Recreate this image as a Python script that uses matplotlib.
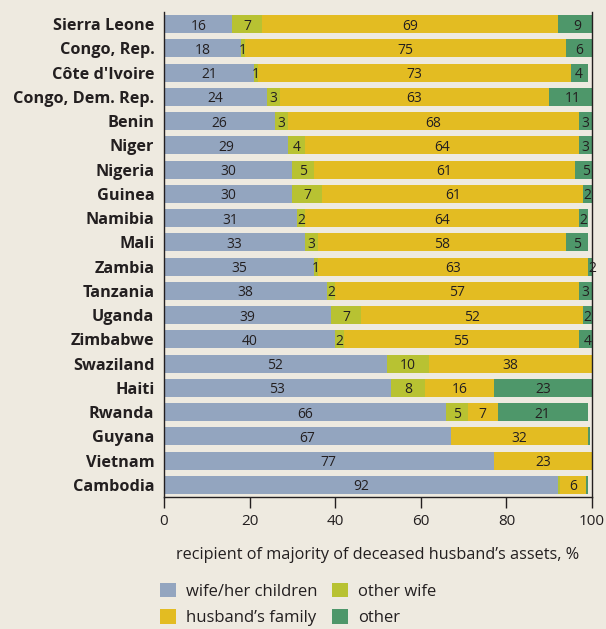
import numpy as np
import matplotlib.pyplot as plt
from matplotlib.patches import Patch

# data (top to bottom)
countries = ["Sierra Leone", "Congo, Rep.", "Côte d'Ivoire", "Congo, Dem. Rep.", "Benin",
             "Niger", "Nigeria", "Guinea", "Namibia", "Mali", "Zambia", "Tanzania",
             "Uganda", "Zimbabwe", "Swaziland", "Haiti", "Rwanda", "Guyana", "Vietnam",
             "Cambodia"]
wife_children = [16, 18, 21, 24, 26, 29, 30, 30, 31, 33, 35, 38, 39, 40, 52, 53, 66, 67, 77, 92]
other_wife = [7, 1, 1, 3, 3, 4, 5, 7, 2, 3, 1, 2, 7, 2, 10, 8, 5, 0, 0, 0.6]
husband_family = [69, 75, 73, 63, 68, 64, 61, 61, 64, 58, 63, 57, 52, 55, 38, 16, 7, 32, 23, 6]
other = [9, 6, 4, 11, 3, 3, 5, 2, 2, 5, 2, 3, 2, 4, 0, 23, 21, 0.6, 0.3, 0.5]

series = [wife_children, other_wife, husband_family, other]
names = ["wife/her children", "other wife", "husband\u2019s family", "other"]
colors = ["#93a5bf", "#b8c232", "#e3bc22", "#4e976a"]

bg = "#eeeae0"
txt = "#231f20"
plt.rcParams['font.family'] = ['Open Sans', 'DejaVu Sans']

fig = plt.figure(figsize=(6.06, 6.29), dpi=100, facecolor=bg)
ax = fig.add_axes([0.2706, 0.2099, 0.7063, 0.771])
ax.set_facecolor(bg)

y = np.arange(len(countries))
left = np.zeros(len(countries))
for vals, c in zip(series, colors):
    vals = np.array(vals, dtype=float)
    ax.barh(y, vals, left=left, height=0.74, color=c, edgecolor='none')
    for yi, (l, v) in enumerate(zip(left, vals)):
        if v >= 1:
            ax.text(l + v / 2, yi + 0.08, f"{int(round(v))}", ha='center', va='center',
                    fontsize=10, color=txt)
    left += vals

ax.set_xlim(0, 100)
ax.set_ylim(len(countries) - 0.5, -0.5)
ax.set_yticks(y)
ax.set_yticklabels(countries, fontsize=11.7, fontweight='bold', color=txt)
ax.tick_params(axis='y', length=0, pad=7)
ax.set_xticks([0, 20, 40, 60, 80, 100])
ax.tick_params(axis='x', direction='out', length=8, width=1, colors=txt, labelsize=11, pad=4)
ax.spines['top'].set_visible(False)
for s in ['left', 'right', 'bottom']:
    ax.spines[s].set_color(txt)
    ax.spines[s].set_linewidth(1)

ax.set_xlabel("recipient of majority of deceased husband\u2019s assets, %", fontsize=11.7,
              color=txt, labelpad=13)

handles = [Patch(facecolor=colors[i], label=names[i]) for i in [0, 2, 1, 3]]
fig.legend(handles=handles, ncol=2, loc='upper left', bbox_to_anchor=(0.264, 0.073),
           frameon=False, fontsize=12, handlelength=0.95, handleheight=0.95,
           handletextpad=0.6, columnspacing=0.9, labelspacing=0.55, labelcolor=txt,
           borderpad=0, borderaxespad=0)

fig.savefig("out.png", dpi=100, facecolor=bg)
